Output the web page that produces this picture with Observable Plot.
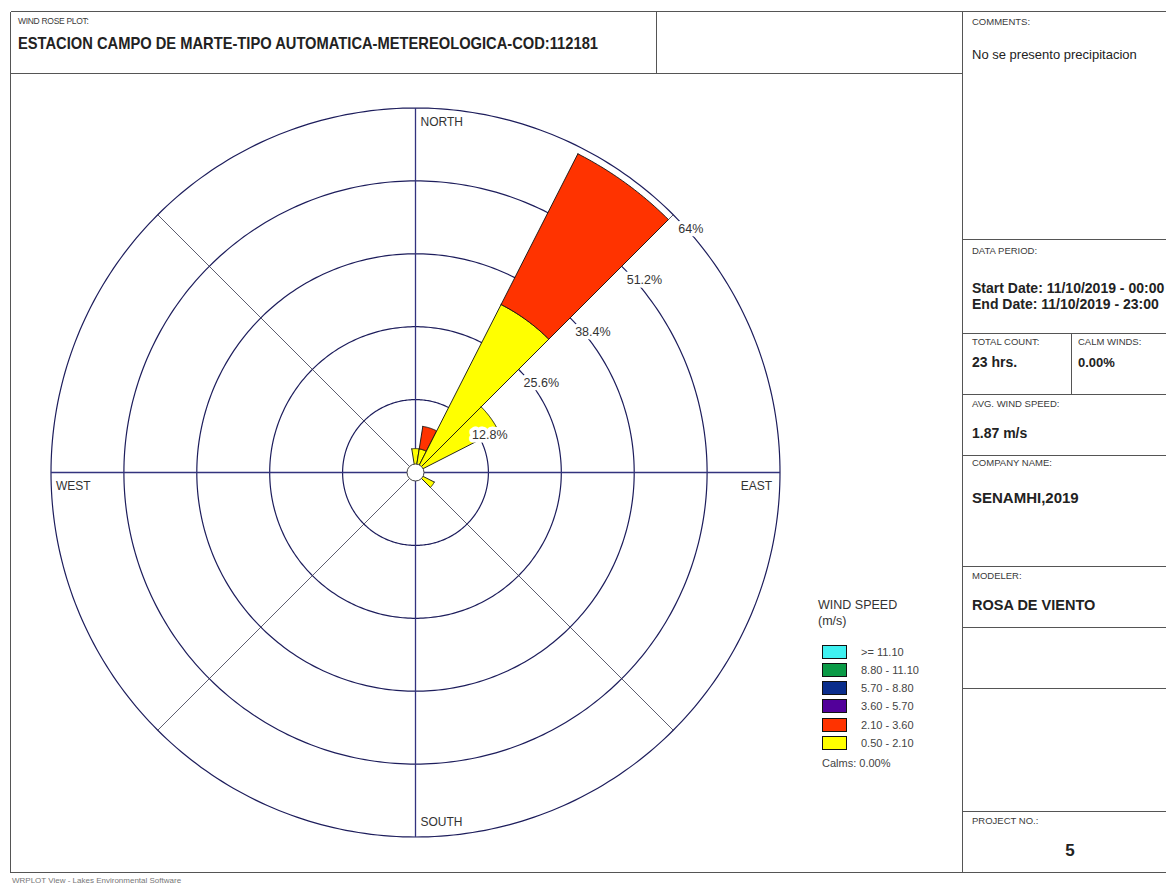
<!DOCTYPE html>
<html>
<head>
<meta charset="utf-8">
<script src="https://cdn.jsdelivr.net/npm/d3@7"></script>
<script src="https://cdn.jsdelivr.net/npm/@observablehq/plot@0.6"></script>
<style>
  body { margin: 0; background: #fff; font-family: "Liberation Sans", Arial, sans-serif; color: #222; }
  #page { position: relative; width: 1166px; height: 886px; overflow: hidden; background: #fff; }
  .hl { position: absolute; height: 0; border-top: 1.6px solid #555; }
  .vl { position: absolute; width: 0; border-left: 1.6px solid #555; }
  .t { position: absolute; white-space: nowrap; line-height: 1; transform: translateY(-50%); }
  .lbl { font-size: 9.5px; color: #3a3a3a; }
  .val { font-size: 14px; font-weight: bold; color: #222; }
  .sw { position: absolute; width: 23px; height: 12px; border: 1px solid #111; }
</style>
</head>
<body>
<div id="page"></div>
<script>
// ---- wind rose data (frequency in % of hours, per direction sector) ----
const directions = [0, 18, 36, 54, 126];          // sector centres, degrees clockwise from north
const sectorWidth = 18;
const speedClasses = [">= 11.10", "8.80 - 11.10", "5.70 - 8.80", "3.60 - 5.70", "2.10 - 3.60", "0.50 - 2.10"];
const classColors  = ["#3ff0f0", "#0a9a46", "#0a2d8c", "#52009a", "#ff3300", "#ffff00"];
const freq_050_210 = [4.2, 4.2, 33.1, 16.3, 3.7];
const freq_210_360 = [0, 4.0, 29.7, 0, 0];
const freq_360_570 = [0, 0, 0, 0, 0];
const freq_570_880 = [0, 0, 0, 0, 0];
const freq_880_1110 = [0, 0, 0, 0, 0];
const freq_ge_1110 = [0, 0, 0, 0, 0];
const ringValues = [12.8, 25.6, 38.4, 51.2, 64];
const compassNames = ["NORTH", "EAST", "SOUTH", "WEST"];
const compassAngles = [0, 90, 180, 270];
const calmsPct = "0.00%";

// ---- header / side panel texts ----
const plotKind = "WIND ROSE PLOT:";
const stationTitle = "ESTACION CAMPO DE MARTE-TIPO AUTOMATICA-METEREOLOGICA-COD:112181";
const comments = "No se presento precipitacion";
const startDate = "Start Date: 11/10/2019 - 00:00";
const endDate = "End Date: 11/10/2019 - 23:00";
const totalCount = "23 hrs.";
const calmWinds = "0.00%";
const avgSpeed = "1.87 m/s";
const company = "SENAMHI,2019";
const modeler = "ROSA DE VIENTO";
const projectNo = "5";
const footer = "WRPLOT View - Lakes Environmental Software";

const page = document.getElementById("page");

function hline(x1, x2, y) {
  const d = document.createElement("div");
  d.className = "hl";
  Object.assign(d.style, { left: x1 + "px", top: (y - 0.8) + "px", width: (x2 - x1) + "px" });
  page.appendChild(d);
}
function vline(x, y1, y2) {
  const d = document.createElement("div");
  d.className = "vl";
  Object.assign(d.style, { left: (x - 0.8) + "px", top: y1 + "px", height: (y2 - y1) + "px" });
  page.appendChild(d);
}
function label(x, y, str, cls, extra = {}) {
  const d = document.createElement("div");
  d.className = "t " + cls;
  d.textContent = str;
  Object.assign(d.style, { left: x + "px", top: y + "px" }, extra);
  page.appendChild(d);
  return d;
}

// ---- frame ----
hline(11, 1200, 12);
hline(11, 1200, 873);
vline(11, 12, 873);
hline(11, 963, 74);
vline(657, 12, 74);
vline(963, 12, 873);
[240, 334, 395, 456, 567, 628, 689, 812].forEach(y => hline(963, 1200, y));
vline(1072, 334, 395);

// ---- header ----
label(18, 21, plotKind, "lbl", { fontSize: "8.5px", letterSpacing: "-0.3px" });
const ttl = label(18, 43, stationTitle, "val", { fontSize: "17px", transformOrigin: "0 50%" });
const natural = ttl.getBoundingClientRect().width;
ttl.style.transform = `translateY(-50%) scaleX(${580 / natural})`;

// ---- side panel ----
const px = 972;
label(px, 22, "COMMENTS:", "lbl");
label(px, 54, comments, "", { fontSize: "13px", color: "#222" });
label(px, 251, "DATA PERIOD:", "lbl");
label(px, 288, startDate, "val");
label(px, 304, endDate, "val");
label(px, 342, "TOTAL COUNT:", "lbl");
label(1078, 342, "CALM WINDS:", "lbl");
label(px, 362, totalCount, "val");
label(1078, 362, calmWinds, "val", { fontSize: "13px" });
label(px, 404, "AVG. WIND SPEED:", "lbl");
label(px, 433, avgSpeed, "val");
label(px, 463, "COMPANY NAME:", "lbl");
label(px, 497, company, "val", { fontSize: "15px" });
label(px, 576, "MODELER:", "lbl");
label(px, 605, modeler, "val", { fontSize: "14.5px" });
label(px, 821, "PROJECT NO.:", "lbl");
label(1070, 850, projectNo, "val", { fontSize: "17px", transform: "translate(-50%,-50%)" });
label(12, 881, footer, "lbl", { fontSize: "8px", color: "#777" });

// ---- legend ----
label(818, 605, "WIND SPEED", "", { fontSize: "12.5px", color: "#333" });
label(818, 621, "(m/s)", "", { fontSize: "12.5px", color: "#333" });
speedClasses.forEach((c, i) => {
  const y = 651.5 + i * 18.3;
  const s = document.createElement("div");
  s.className = "sw";
  Object.assign(s.style, { left: "822px", top: (y - 7) + "px", background: classColors[i] });
  page.appendChild(s);
  label(861, y, c, "", { fontSize: "11px", color: "#444" });
});
label(822, 763, "Calms: " + calmsPct, "", { fontSize: "11px", color: "#444" });

// ---- rose geometry helpers ----
const pxPerPct = 364.5 / 64;
const half = 380;
const D = half / pxPerPct;
const rad = deg => deg * Math.PI / 180;
const polarX = (r, deg) => r * Math.sin(rad(deg));
const polarY = (r, deg) => r * Math.cos(rad(deg));

// stack the speed classes outward for each direction (slowest class innermost)
const stackOrder = [
  { color: classColors[5], vals: freq_050_210 },
  { color: classColors[4], vals: freq_210_360 },
  { color: classColors[3], vals: freq_360_570 },
  { color: classColors[2], vals: freq_570_880 },
  { color: classColors[1], vals: freq_880_1110 },
  { color: classColors[0], vals: freq_ge_1110 }
];
const wedges = [];
directions.forEach((dir, i) => {
  let base = 0;
  stackOrder.forEach(s => {
    const v = s.vals[i];
    if (v > 0) { wedges.push({ dir, color: s.color, r0: base, r1: base + v }); base += v; }
  });
});

// outline of each wedge: outer arc, inner arc (or the centre), closed
const wedgePts = [];
wedges.forEach((w, id) => {
  const a0 = w.dir - sectorWidth / 2, a1 = w.dir + sectorWidth / 2, n = 30;
  const ring = [];
  for (let k = 0; k <= n; k++) { const a = a0 + (a1 - a0) * k / n; ring.push([polarX(w.r1, a), polarY(w.r1, a)]); }
  if (w.r0 > 0) for (let k = n; k >= 0; k--) { const a = a0 + (a1 - a0) * k / n; ring.push([polarX(w.r0, a), polarY(w.r0, a)]); }
  else ring.push([0, 0]);
  ring.push(ring[0]);
  ring.forEach(([x, y]) => wedgePts.push({ id, x, y, color: w.color }));
});

// concentric frequency circles
const ringPts = [];
ringValues.forEach(v => { for (let a = 0; a <= 360; a += 1) ringPts.push({ ring: v, x: polarX(v, a), y: polarY(v, a) }); });

const outer = ringValues[ringValues.length - 1];
const mainSpokes = [0, 90, 180, 270];
const diagSpokes = [45, 135, 225, 315];

const compass = compassNames.map((name, i) => ({
  name, a: compassAngles[i], x: polarX(outer, compassAngles[i]), y: polarY(outer, compassAngles[i])
}));
const byName = n => compass.filter(d => n.includes(d.name));

const chart = Plot.plot({
  width: 760,
  height: 760,
  margin: 0,
  x: { domain: [-D, D], axis: null },
  y: { domain: [-D, D], axis: null },
  color: { type: "identity" },
  style: { background: "transparent", overflow: "visible", fontFamily: "'Liberation Sans', Arial, sans-serif" },
  marks: [
    Plot.line(ringPts, { x: "x", y: "y", z: "ring", stroke: "#1d1d5c", strokeWidth: 1.2 }),
    Plot.link(diagSpokes, { x1: () => 0, y1: () => 0, x2: a => polarX(outer, a), y2: a => polarY(outer, a), stroke: "#34344a", strokeWidth: 0.8 }),
    Plot.link(mainSpokes, { x1: () => 0, y1: () => 0, x2: a => polarX(outer, a), y2: a => polarY(outer, a), stroke: "#33337e", strokeWidth: 1.3 }),
    Plot.line(wedgePts, { x: "x", y: "y", z: "id", fill: "color", stroke: "#111", strokeWidth: 0.9, curve: "linear" }),
    Plot.dot([0], { x: () => 0, y: () => 0, r: 8.5, fill: "white", stroke: "#444", strokeWidth: 1 }),
    Plot.text(ringValues, {
      x: v => polarX(v, 45), y: v => polarY(v, 45), text: v => `${v}%`,
      textAnchor: "start", dx: 5, dy: 14, fontSize: 12.5, fill: "#333", stroke: "white", strokeWidth: 7
    }),
    Plot.text(byName(["NORTH", "WEST"]), { x: "x", y: "y", text: "name", textAnchor: "start", dx: 5, dy: 14, fontSize: 12, fill: "#333" }),
    Plot.text(byName(["SOUTH"]), { x: "x", y: "y", text: "name", textAnchor: "start", dx: 5, dy: -15, fontSize: 12, fill: "#333" }),
    Plot.text(byName(["EAST"]), { x: "x", y: "y", text: "name", textAnchor: "end", dx: -8, dy: 14, fontSize: 12, fill: "#333" })
  ]
});
Object.assign(chart.style, { position: "absolute", left: (414.5 - half) + "px", top: (472 - half) + "px" });
page.appendChild(chart);
</script>
</body>
</html>
